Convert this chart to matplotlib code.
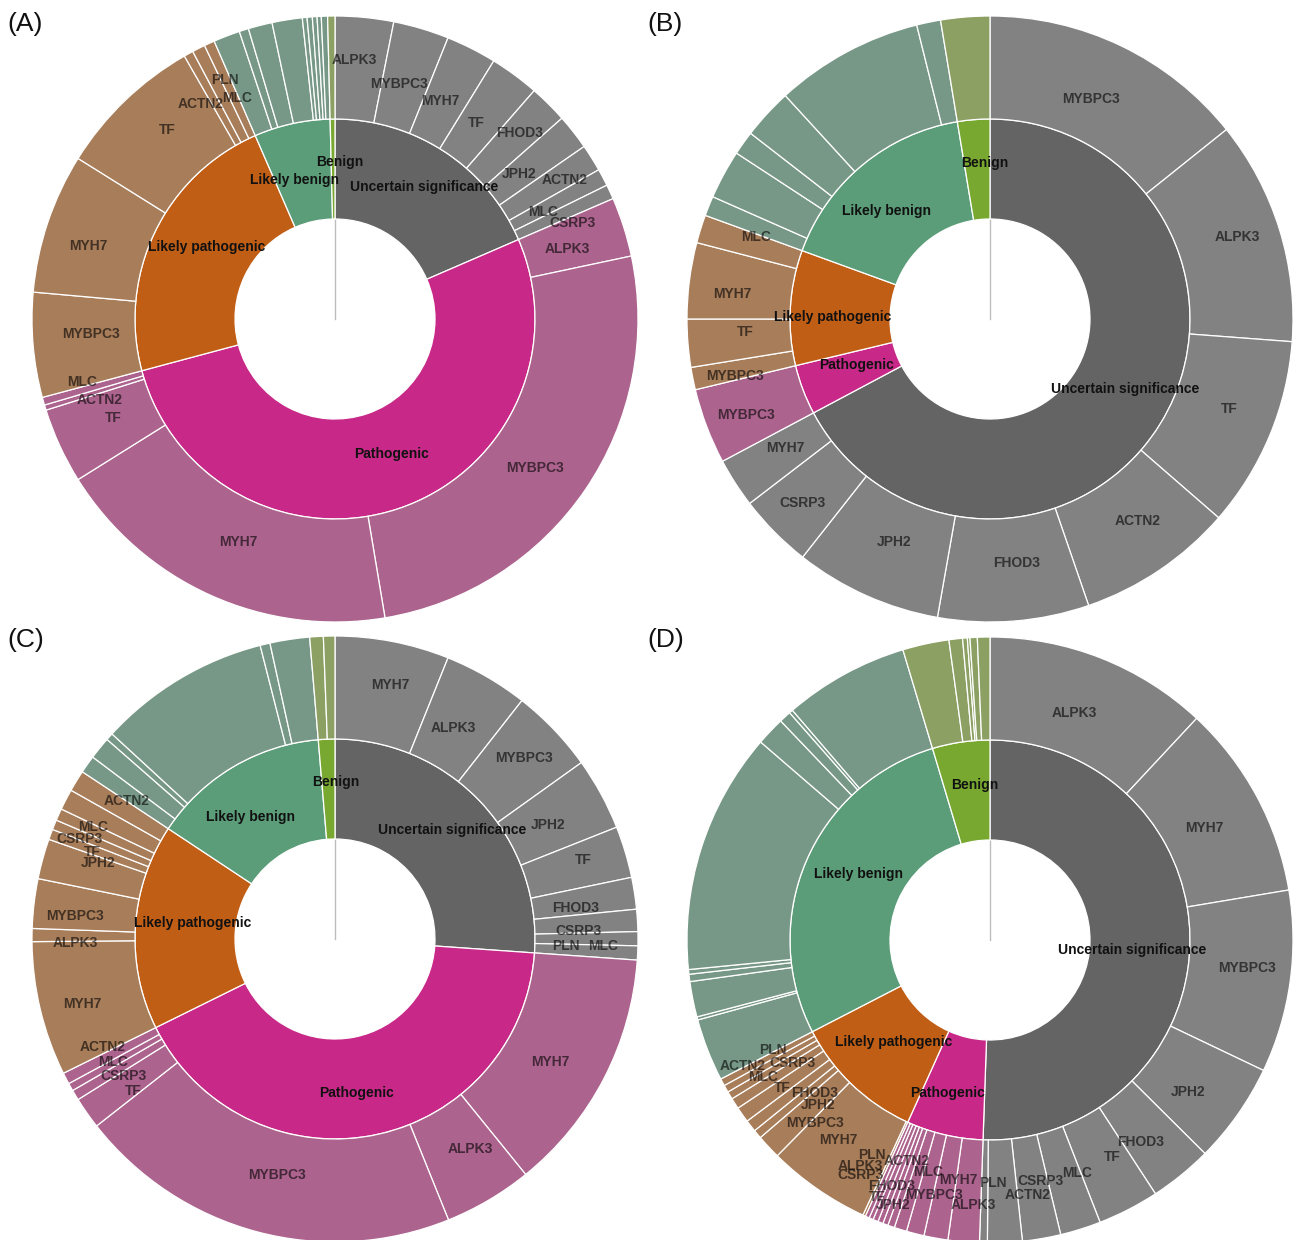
import numpy as np
import matplotlib
matplotlib.use("Agg")
import matplotlib.pyplot as plt
from matplotlib.patches import Wedge

plt.rcParams['font.family'] = ['Liberation Sans', 'DejaVu Sans']

# classification order, clockwise from 12 o'clock
categories = ["Uncertain significance", "Pathogenic", "Likely pathogenic",
              "Likely benign", "Benign"]
inner_colors = ["#646464", "#C82887", "#C15E16", "#5A9D78", "#78A830"]
outer_colors = ["#828282", "#AC648E", "#A87D5A", "#789887", "#8CA064"]

# gene shares per classification (relative sizes)
# empty name = slice drawn without a label
a_genes = [["ALPK3", "MYBPC3", "MYH7", "TF", "FHOD3", "JPH2", "ACTN2", "MLC", "CSRP3"],
           ["ALPK3", "MYBPC3", "MYH7", "TF", "ACTN2", "MLC"],
           ["MYBPC3", "MYH7", "TF", "ACTN2", "PLN", "MLC"],
           [""] * 9,
           [""]]
a_values = [[11.2, 10.7, 9.7, 9.5, 7.4, 6.8, 5.2, 3.3, 2.8],
            [11.4, 92.5, 67.5, 14.5, 1.0, 1.5],
            [20.1, 26.9, 28.2, 1.8, 2.5, 2.0],
            [5.1, 1.8, 4.6, 5.8, 0.9, 1.0, 0.9, 0.8, 1.2],
            [1.4]]

b_genes = [["MYBPC3", "ALPK3", "TF", "ACTN2", "FHOD3", "JPH2", "CSRP3", "MYH7"],
           ["MYBPC3"],
           ["MYBPC3", "TF", "MYH7", "MLC"],
           [""] * 6,
           [""]]
b_values = [[51.3, 43.0, 36.7, 30.0, 29.0, 28.2, 14.3, 9.5],
            [14.5],
            [4.3, 9.2, 14.6, 5.4],
            [3.8, 9.4, 4.6, 9.7, 28.5, 4.6],
            [9.4]]

c_genes = [["MYH7", "ALPK3", "MYBPC3", "JPH2", "TF", "FHOD3", "CSRP3", "PLN", "MLC"],
           ["MYH7", "ALPK3", "MYBPC3", "TF", "CSRP3", "MLC", "ACTN2"],
           ["MYH7", "ALPK3", "MYBPC3", "JPH2", "TF", "CSRP3", "MLC", "", "ACTN2"],
           [""] * 6,
           ["", ""]]
c_values = [[21.9, 16.2, 16.3, 13.95, 9.9, 6.1, 4.25, 2.7, 2.7],
            [47.0, 17.0, 73.9, 6.1, 2.0, 1.5, 2.2],
            [25.8, 2.5, 9.5, 7.7, 2.0, 1.9, 2.3, 4.0, 4.1],
            [3.4, 4.3, 1.4, 33.1, 1.9, 7.6],
            [2.6, 2.2]]

d_genes = [["ALPK3", "MYH7", "MYBPC3", "JPH2", "FHOD3", "TF", "MLC", "CSRP3", "ACTN2", "PLN"],
           ["ALPK3", "MYH7", "MYBPC3", "MLC", "ACTN2", "FHOD3", "TF", "JPH2", "CSRP3", "PLN"],
           ["ALPK3", "MYH7", "MYBPC3", "JPH2", "FHOD3", "TF", "MLC", "CSRP3", "ACTN2", "PLN"],
           [""] * 10,
           [""] * 6]
d_values = [[43.0, 37.5, 35.0, 19.3, 12.1, 11.8, 7.8, 7.35, 6.65, 1.5],
            [6.0, 4.6, 3.4, 2.4, 1.3, 1.0, 1.0, 1.0, 0.8, 0.8],
            [0.5, 19.8, 4.7, 1.7, 2.3, 3.0, 2.1, 1.5, 1.4, 1.4],
            [12.0, 0.6, 6.8, 1.4, 0.9, 46.4, 5.5, 2.3, 0.7, 24.0],
            [8.9, 2.6, 0.9, 0.5, 1.4, 2.4]]

panel_tags = ["A", "B", "C", "D"]

R_HOLE, R_MID, R_OUT = 100, 200, 303

# label nudges in pixels (x right, y down); None = classification label
NUDGE = (7, -7)
FLIP = (-8, 7)
label_shift = {}
for key in [("A", 0, "MYBPC3"), ("A", 0, "MYH7"), ("A", 0, "TF"), ("A", 1, "ALPK3"),
            ("A", 1, "MYBPC3"), ("A", 2, "MYH7"), ("A", 3, None),
            ("B", 0, "MYBPC3"), ("B", 0, "CSRP3"), ("B", 1, "MYBPC3"), ("B", 2, "MYBPC3"),
            ("B", 2, "MYH7"), ("B", 2, None), ("B", 3, None),
            ("C", 0, "ALPK3"), ("C", 0, "JPH2"), ("C", 0, "FHOD3"), ("C", 0, "CSRP3"),
            ("C", 1, "MYH7"), ("C", 2, "MYH7"), ("C", 1, None), ("C", 3, None),
            ("D", 0, "ALPK3"), ("D", 0, "MYH7"), ("D", 0, "JPH2"), ("D", 0, "FHOD3"),
            ("D", 0, None), ("D", 1, None)]:
    label_shift[key] = FLIP
# crowded thin slices
label_shift.update({
    ("A", 0, "ALPK3"): (-5, -8), ("A", 0, "JPH2"): (-14, 10), ("A", 0, "ACTN2"): (16, -5),
    ("A", 0, "MLC"): (-15, 11), ("A", 0, "CSRP3"): (9, 10), ("A", 1, "ACTN2"): (6, 7),
    ("A", 1, "MLC"): (-10, -5), ("A", 2, "ACTN2"): (-13, 6), ("A", 2, "PLN"): (3, -14),
    ("A", 2, "MLC"): (7, 8),
    ("C", 0, "PLN"): (-21, 7), ("C", 0, "MLC"): (16, -5), ("C", 1, "TF"): (5, 7),
    ("C", 1, "CSRP3"): (5, 7), ("C", 1, "MLC"): (-2, 0), ("C", 1, "ACTN2"): (-9, -8),
    ("C", 2, "ALPK3"): (-8, 7), ("C", 2, "MYBPC3"): (-10, 7), ("C", 2, "JPH2"): (6, -9),
    ("C", 2, "TF"): (-6, 0), ("C", 2, "CSRP3"): (-22, -5), ("C", 2, "MLC"): (-12, -8),
    ("C", 2, "ACTN2"): (7, -7),
    ("D", 0, "MLC"): (12, -7), ("D", 0, "ACTN2"): (25, 3), ("D", 0, "PLN"): (8, -9),
    ("D", 1, "ALPK3"): (5, 14), ("D", 1, "MYH7"): (13, -8), ("D", 1, "MYBPC3"): (6, 11),
    ("D", 1, "MLC"): (13, -9), ("D", 1, "ACTN2"): (-1, -17), ("D", 1, "FHOD3"): (-11, 9),
    ("D", 1, "TF"): (-22, 22), ("D", 1, "JPH2"): (-2, 32), ("D", 1, "CSRP3"): (-31, 3),
    ("D", 1, "PLN"): (-16, -15),
    ("D", 2, "ALPK3"): (-25, -3), ("D", 2, "MYH7"): (-8, -7), ("D", 2, "MYBPC3"): (9, 11),
    ("D", 2, "JPH2"): (21, 4), ("D", 2, "FHOD3"): (24, -2), ("D", 2, "TF"): (-2, 3),
    ("D", 2, "MLC"): (-15, 1), ("D", 2, "CSRP3"): (19, -6), ("D", 2, "ACTN2"): (-28, 2),
    ("D", 2, "PLN"): (5, -8),
})


def polar(cx, cy, r, ang):
    # ang in degrees clockwise from 12 o'clock, y axis points down
    a = np.radians(ang)
    return cx + r * np.sin(a), cy - r * np.cos(a)


def sunburst(ax, cx, cy, genes, values, tag):
    totals = [sum(v) for v in values]
    scale = 360.0 / sum(totals)
    ax.plot([cx, cx], [cy, cy - R_HOLE], color="#bdbdbd", lw=1, zorder=1)
    start = 0.0
    for k, cat in enumerate(categories):
        span = totals[k] * scale
        # inner ring (classification)
        ax.add_patch(Wedge((cx, cy), R_MID, start - 90, start + span - 90,
                           width=R_MID - R_HOLE, facecolor=inner_colors[k],
                           edgecolor="white", lw=0.9, zorder=2))
        # outer ring (genes)
        pos = start
        for g, v in zip(genes[k], values[k]):
            s = v * scale
            ax.add_patch(Wedge((cx, cy), R_OUT, pos - 90, pos + s - 90,
                               width=R_OUT - R_MID, facecolor=outer_colors[k],
                               edgecolor="white", lw=0.9, zorder=2))
            if g:
                x, y = polar(cx, cy, 252, pos + s / 2)
                dx, dy = label_shift.get((tag, k, g), NUDGE)
                ax.text(x + dx, y + dy, g, ha="center", va="center", fontsize=10,
                        fontweight="bold", color="black", alpha=0.6, zorder=4)
            pos += s
        start += span
    # classification labels on top
    start = 0.0
    for k, cat in enumerate(categories):
        span = totals[k] * scale
        x, y = polar(cx, cy, 150, start + span / 2)
        dx, dy = label_shift.get((tag, k, None), NUDGE)
        ax.text(x + dx, y + dy, cat, ha="center", va="center", fontsize=10,
                fontweight="bold", color="#111111", zorder=5)
        start += span


fig = plt.figure(figsize=(12.96, 12.4), dpi=100)
ax = fig.add_axes([0, 0, 1, 1])
ax.set_xlim(0, 1296)
ax.set_ylim(1240, 0)
ax.axis("off")

centers = [(335, 319), (990, 319), (335, 939), (990, 940)]
tag_pos = [(7, 24), (647, 24), (7, 640), (647, 640)]
all_genes = [a_genes, b_genes, c_genes, d_genes]
all_values = [a_values, b_values, c_values, d_values]

for (cx, cy), g, v, tag, (tx, ty) in zip(centers, all_genes, all_values, panel_tags, tag_pos):
    sunburst(ax, cx, cy, g, v, tag)
    ax.text(tx, ty, "(" + tag + ")", ha="left", va="center", fontsize=19, color="#111111")

fig.savefig("out.png", dpi=100)
